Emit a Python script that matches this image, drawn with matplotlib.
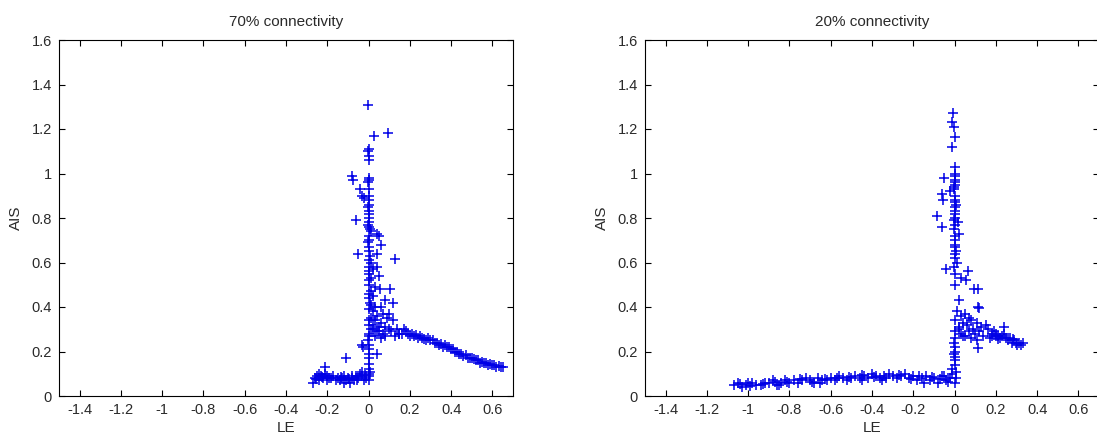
import matplotlib
matplotlib.use("Agg")
import matplotlib.pyplot as plt

plt.rcParams['font.family'] = ['Liberation Sans', 'DejaVu Sans']

# ---- 70% connectivity (LE, AIS) ----
spike70_le = [-0.005, 0.025, 0.095, 0.0, -0.003, 0.0, 0.002, -0.08, -0.075, 0.0,
              0.0, -0.003, 0.0, -0.04, -0.03, -0.02, 0.0, 0.002, 0.0, -0.003,
              0.0, 0.0, 0.003, -0.06, 0.0, -0.002, 0.0, 0.005, 0.01, 0.04,
              0.05, 0.0, 0.0, -0.003, 0.06, 0.0, 0.0, -0.05, 0.04, 0.005,
              0.13, 0.0, 0.01, 0.0, 0.04, 0.02, 0.0, 0.0, 0.05, 0.01,
              0.0, 0.0, 0.03, 0.055, 0.105, 0.01, 0.0, 0.02, 0.08, 0.12]
spike70_ais = [1.31, 1.17, 1.18, 1.11, 1.10, 1.08, 1.06, 0.99, 0.97, 0.98,
               0.97, 0.96, 0.93, 0.93, 0.90, 0.89, 0.90, 0.88, 0.86, 0.85,
               0.83, 0.82, 0.80, 0.79, 0.78, 0.77, 0.76, 0.75, 0.74, 0.73,
               0.72, 0.72, 0.70, 0.69, 0.68, 0.67, 0.65, 0.64, 0.64, 0.63,
               0.615, 0.61, 0.60, 0.58, 0.58, 0.57, 0.56, 0.55, 0.54, 0.53,
               0.52, 0.50, 0.49, 0.48, 0.48, 0.47, 0.46, 0.45, 0.43, 0.42]

knee70_le = [0.0, 0.005, 0.01, 0.03, 0.06, 0.0, 0.02, 0.07, 0.1, 0.04,
             0.01, 0.09, 0.0, 0.03, 0.06, 0.12, 0.0, 0.02, 0.05, 0.08,
             0.01, 0.04, 0.1, 0.14, 0.0, 0.03, 0.07, 0.16, 0.18, 0.11,
             0.13, 0.15, 0.02, 0.05, 0.08, 0.06]
knee70_ais = [0.44, 0.42, 0.41, 0.40, 0.40, 0.39, 0.38, 0.37, 0.37, 0.36,
              0.35, 0.35, 0.34, 0.34, 0.33, 0.34, 0.32, 0.32, 0.31, 0.31,
              0.30, 0.29, 0.30, 0.30, 0.28, 0.27, 0.28, 0.28, 0.29, 0.29,
              0.27, 0.28, 0.30, 0.29, 0.27, 0.26]

tail70_le = [0.2, 0.21, 0.22, 0.24, 0.25, 0.26, 0.28, 0.29, 0.3, 0.32,
             0.33, 0.34, 0.36, 0.37, 0.38, 0.4, 0.41, 0.42, 0.44, 0.45,
             0.46, 0.48, 0.49, 0.5, 0.52, 0.53, 0.54, 0.56, 0.57, 0.58,
             0.6, 0.61, 0.62, 0.64, 0.65]
tail70_ais = [0.27, 0.28, 0.27, 0.26, 0.27, 0.26, 0.25, 0.26, 0.25, 0.24,
              0.24, 0.23, 0.22, 0.23, 0.22, 0.21, 0.21, 0.20, 0.19, 0.19,
              0.18, 0.17, 0.17, 0.17, 0.16, 0.16, 0.15, 0.15, 0.15, 0.14,
              0.14, 0.14, 0.13, 0.13, 0.13]
tail70b_le = [0.15, 0.17, 0.19, 0.23, 0.27, 0.31, 0.35, 0.39, 0.43, 0.47, 0.51, 0.55, 0.59, 0.63]
tail70b_ais = [0.28, 0.30, 0.28, 0.275, 0.255, 0.25, 0.235, 0.22, 0.2, 0.185, 0.165, 0.155, 0.145, 0.135]

low70_le = [0.0, -0.003, 0.0, -0.03, -0.025, 0.002, 0.04, 0.0, 0.0, -0.11, 0.0, 0.002, 0.0]
low70_ais = [0.27, 0.25, 0.23, 0.23, 0.22, 0.21, 0.19, 0.19, 0.17, 0.17, 0.145, 0.12, 0.10]

floor70_le = [-0.27, -0.26, -0.25, -0.24, -0.23, -0.22, -0.21, -0.21, -0.2, -0.19,
              -0.18, -0.17, -0.16, -0.15, -0.14, -0.13, -0.12, -0.11, -0.1, -0.09,
              -0.08, -0.07, -0.06, -0.05, -0.04, -0.03, -0.02, -0.01, 0.0, 0.005,
              -0.24, -0.2, -0.12, -0.08, -0.03, 0.0, -0.255, -0.225, -0.135, -0.095,
              -0.055, -0.015]
floor70_ais = [0.06, 0.08, 0.09, 0.07, 0.09, 0.08, 0.13, 0.10, 0.09, 0.08,
               0.08, 0.09, 0.07, 0.08, 0.07, 0.08, 0.09, 0.07, 0.08, 0.06,
               0.08, 0.07, 0.09, 0.08, 0.10, 0.09, 0.07, 0.08, 0.09, 0.11,
               0.10, 0.07, 0.06, 0.09, 0.11, 0.07, 0.075, 0.085, 0.085, 0.075,
               0.07, 0.095]

# ---- 20% connectivity (LE, AIS) ----
spike20_le = [-0.008, -0.01, -0.005, 0.0, -0.01, 0.0, 0.004, -0.05, -0.06, -0.055,
              -0.085, -0.06, 0.0, 0.0, -0.003, 0.0, 0.002, 0.0, 0.0, 0.016,
              0.024, 0.0, -0.002, 0.0, 0.0, 0.005, -0.04, 0.064, 0.057, 0.0,
              0.092, 0.116, 0.01, 0.024, 0.115, 0.12, 0.0, -0.02, 0.0, 0.03]
spike20_ais = [1.27, 1.23, 1.21, 1.165, 1.12, 1.03, 1.00, 0.98, 0.91, 0.88,
               0.81, 0.76, 0.97, 0.95, 0.93, 0.90, 0.87, 0.85, 0.83, 0.78,
               0.73, 0.80, 0.75, 0.70, 0.68, 0.65, 0.57, 0.56, 0.52, 0.62,
               0.48, 0.48, 0.60, 0.43, 0.40, 0.395, 0.55, 0.92, 0.50, 0.53]

col20_le = [0.0, 0.003, -0.004, 0.0, 0.005, 0.0, -0.003, 0.002, 0.0, 0.004, 0.0, -0.002]
col20_ais = [0.99, 0.96, 0.94, 0.88, 0.86, 0.82, 0.79, 0.77, 0.72, 0.67, 0.64, 0.58]

knee20_le = [0.01, 0.03, 0.05, 0.07, 0.0, 0.04, 0.08, 0.11, 0.02, 0.06,
             0.09, 0.13, 0.15, 0.0, 0.03, 0.07, 0.1, 0.12, 0.16, 0.18,
             0.05, 0.08, 0.14, 0.2, 0.24, 0.02, 0.11, 0.17, 0.21, 0.04]
knee20_ais = [0.38, 0.36, 0.37, 0.35, 0.34, 0.33, 0.34, 0.33, 0.31, 0.32,
              0.30, 0.31, 0.32, 0.29, 0.28, 0.29, 0.28, 0.29, 0.30, 0.28,
              0.27, 0.26, 0.27, 0.28, 0.31, 0.30, 0.25, 0.26, 0.27, 0.27]

tail20_le = [0.18, 0.2, 0.22, 0.23, 0.25, 0.26, 0.27, 0.28, 0.29, 0.3, 0.31, 0.32, 0.33, 0.115,
             0.19, 0.21, 0.24, 0.285, 0.305]
tail20_ais = [0.27, 0.27, 0.26, 0.27, 0.26, 0.25, 0.26, 0.24, 0.25, 0.24, 0.24, 0.23, 0.24, 0.215,
              0.29, 0.255, 0.28, 0.255, 0.23]

low20_le = [0.0, -0.003, 0.0, 0.002, -0.005, 0.0, 0.003, 0.0, -0.01, 0.005]
low20_ais = [0.26, 0.24, 0.22, 0.2, 0.19, 0.175, 0.16, 0.14, 0.12, 0.11]

floor20_le = [-1.07, -1.05, -1.03, -1.01, -0.98, -0.96, -0.94, -0.92, -0.9, -0.88,
              -0.86, -0.84, -0.82, -0.8, -0.78, -0.76, -0.74, -0.72, -0.7, -0.68,
              -0.66, -0.64, -0.62, -0.6, -0.58, -0.56, -0.54, -0.52, -0.5, -0.48,
              -0.46, -0.44, -0.42, -0.4, -0.38, -0.36, -0.34, -0.32, -0.3, -0.28,
              -0.26, -0.24, -0.22, -0.2, -0.18, -0.16, -0.14, -0.12, -0.1, -0.08,
              -0.06, -0.04, -0.02, 0.0, -0.01, -0.05, -0.15, -0.35, -0.45, -0.65,
              -0.85, -1.0]
floor20_ais = [0.05, 0.06, 0.04, 0.05, 0.06, 0.05, 0.05, 0.06, 0.06, 0.07,
               0.05, 0.06, 0.07, 0.06, 0.07, 0.06, 0.07, 0.08, 0.07, 0.06,
               0.08, 0.07, 0.07, 0.08, 0.07, 0.09, 0.08, 0.07, 0.08, 0.09,
               0.08, 0.09, 0.08, 0.10, 0.09, 0.08, 0.09, 0.1, 0.09, 0.08,
               0.09, 0.1, 0.08, 0.09, 0.07, 0.08, 0.09, 0.07, 0.08, 0.06,
               0.09, 0.07, 0.08, 0.06, 0.1, 0.09, 0.06, 0.07, 0.07, 0.06,
               0.05, 0.06]
floor20b_le = [-1.04, -0.99, -0.93, -0.87, -0.81, -0.75, -0.69, -0.63, -0.57, -0.51,
               -0.45, -0.39, -0.33, -0.27, -0.21, -0.17, -0.11, -0.07, -0.03, 0.005]
floor20b_ais = [0.055, 0.045, 0.055, 0.065, 0.065, 0.075, 0.065, 0.075, 0.08, 0.085,
                0.095, 0.085, 0.08, 0.095, 0.075, 0.09, 0.085, 0.075, 0.065, 0.08]

panels = [
    ("70% connectivity",
     [(spike70_le, spike70_ais), (knee70_le, knee70_ais), (tail70_le, tail70_ais),
      (tail70b_le, tail70b_ais), (low70_le, low70_ais), (floor70_le, floor70_ais)]),
    ("20% connectivity",
     [(spike20_le, spike20_ais), (col20_le, col20_ais), (knee20_le, knee20_ais),
      (tail20_le, tail20_ais), (low20_le, low20_ais), (floor20_le, floor20_ais),
      (floor20b_le, floor20b_ais)]),
]

x_ticks = [-1.4, -1.2, -1, -0.8, -0.6, -0.4, -0.2, 0, 0.2, 0.4, 0.6]
y_ticks = [0, 0.2, 0.4, 0.6, 0.8, 1, 1.2, 1.4, 1.6]
txt = '#2a2a2a'

fig = plt.figure(figsize=(10.97, 4.38), dpi=100)
lefts = [59 / 1097, 645 / 1097]

for left, (title, groups) in zip(lefts, panels):
    ax = fig.add_axes([left, 42 / 438, 454 / 1097, 356 / 438])
    for xs, ys in groups:
        ax.plot(xs, ys, '+', color='#0000e6', markersize=7, markeredgewidth=1.1)
    ax.set_xlim(-1.5, 0.7)
    ax.set_ylim(0, 1.6)
    ax.set_xticks(x_ticks)
    ax.set_xticklabels([f"{t:g}" for t in x_ticks])
    ax.set_yticks(y_ticks)
    ax.set_yticklabels([f"{t:g}" for t in y_ticks])
    ax.tick_params(direction='in', length=4, width=0.8, top=True, right=True,
                   labelsize=10.5, labelcolor=txt, pad=5)
    for s in ax.spines.values():
        s.set_linewidth(0.8)
    ax.set_title(title, fontsize=11, color=txt, pad=10)
    ax.set_xlabel("LE", fontsize=11, color=txt, labelpad=3)
    ax.set_ylabel("AIS", fontsize=11, color=txt, labelpad=6)

fig.savefig("out.png", dpi=100)
